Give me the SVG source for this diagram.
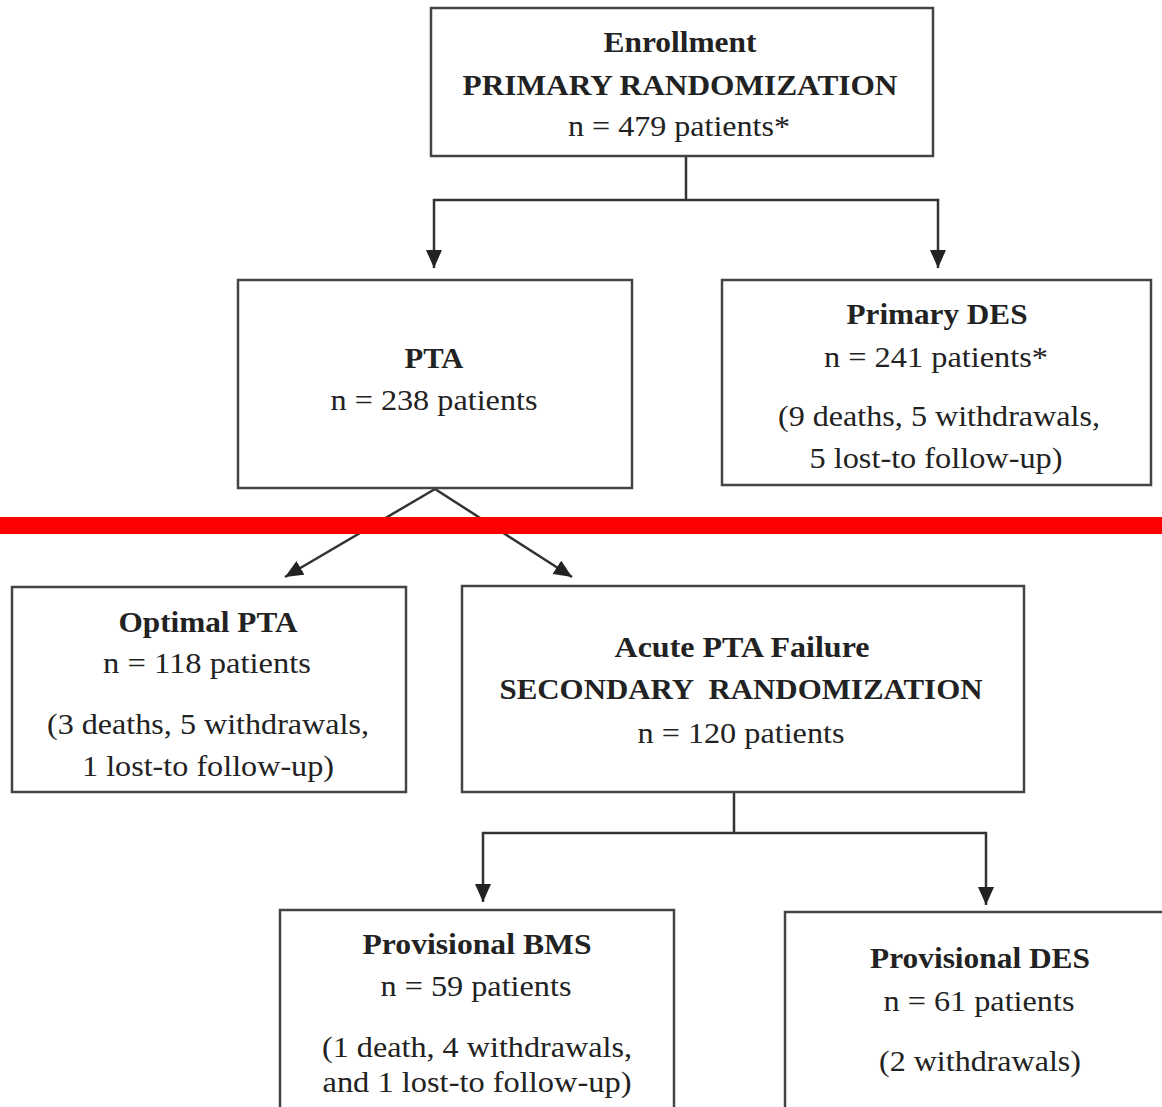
<svg xmlns="http://www.w3.org/2000/svg" width="1162" height="1107" viewBox="0 0 1162 1107">
<defs>
<style>
.box{fill:#fff;stroke:#444;stroke-width:2.5}
.t{font-family:"Liberation Serif","Times New Roman",serif;font-size:29px;fill:#222;text-anchor:middle}
.b{font-weight:bold}
.c{fill:none;stroke:#333;stroke-width:2.5}
</style>
<marker id="ah" markerUnits="userSpaceOnUse" markerWidth="18" markerHeight="16" viewBox="0 0 18 16" refX="18" refY="8" orient="auto">
<path d="M0,0 L18,8 L0,16 z" fill="#222"/>
</marker>
</defs>
<rect width="1162" height="1107" fill="#fff"/>
<g id="connectors">
<path class="c" d="M686,156 V200"/>
<path class="c" d="M686,200 H434 V268" marker-end="url(#ah)"/>
<path class="c" d="M686,200 H938 V268" marker-end="url(#ah)"/>
<path class="c" d="M435,489 L285,577" marker-end="url(#ah)"/>
<path class="c" d="M435,489 L572,577" marker-end="url(#ah)"/>
<path class="c" d="M734,792 V833"/>
<path class="c" d="M734,833 H483 V902" marker-end="url(#ah)"/>
<path class="c" d="M734,833 H986 V905" marker-end="url(#ah)"/>
</g>
<g id="enrollment">
<rect class="box" x="431" y="8" width="502" height="148"/>
<text class="t b" x="680" y="52" textLength="153" lengthAdjust="spacingAndGlyphs">Enrollment</text>
<text class="t b" x="680" y="95" textLength="435" lengthAdjust="spacingAndGlyphs">PRIMARY RANDOMIZATION</text>
<text class="t" x="679" y="136" textLength="222" lengthAdjust="spacingAndGlyphs">n = 479 patients*</text>
</g>
<g id="pta">
<rect class="box" x="238" y="280" width="394" height="208"/>
<text class="t b" x="434" y="368" textLength="59" lengthAdjust="spacingAndGlyphs">PTA</text>
<text class="t" x="434" y="410" textLength="207" lengthAdjust="spacingAndGlyphs">n = 238 patients</text>
</g>
<g id="primary-des">
<rect class="box" x="722" y="280" width="429" height="205"/>
<text class="t b" x="937" y="324" textLength="181" lengthAdjust="spacingAndGlyphs">Primary DES</text>
<text class="t" x="936" y="367" textLength="224" lengthAdjust="spacingAndGlyphs">n = 241 patients*</text>
<text class="t" x="939" y="426" textLength="322" lengthAdjust="spacingAndGlyphs">(9 deaths, 5 withdrawals,</text>
<text class="t" x="936" y="468" textLength="253" lengthAdjust="spacingAndGlyphs">5 lost-to follow-up)</text>
</g>
<g id="optimal-pta">
<rect class="box" x="12" y="587" width="394" height="205"/>
<text class="t b" x="208" y="632" textLength="179" lengthAdjust="spacingAndGlyphs">Optimal PTA</text>
<text class="t" x="207" y="673" textLength="208" lengthAdjust="spacingAndGlyphs">n = 118 patients</text>
<text class="t" x="208" y="734" textLength="322" lengthAdjust="spacingAndGlyphs">(3 deaths, 5 withdrawals,</text>
<text class="t" x="208" y="776" textLength="252" lengthAdjust="spacingAndGlyphs">1 lost-to follow-up)</text>
</g>
<g id="acute-pta-failure">
<rect class="box" x="462" y="586" width="562" height="206"/>
<text class="t b" x="742" y="657" textLength="255" lengthAdjust="spacingAndGlyphs">Acute PTA Failure</text>
<text class="t b" x="741" y="699" textLength="483" lengthAdjust="spacingAndGlyphs" xml:space="preserve">SECONDARY  RANDOMIZATION</text>
<text class="t" x="741" y="743" textLength="207" lengthAdjust="spacingAndGlyphs">n = 120 patients</text>
</g>
<g id="provisional-bms">
<rect class="box" x="280" y="910" width="394" height="215"/>
<text class="t b" x="477" y="954" textLength="229" lengthAdjust="spacingAndGlyphs">Provisional BMS</text>
<text class="t" x="476" y="996" textLength="191" lengthAdjust="spacingAndGlyphs">n = 59 patients</text>
<text class="t" x="477" y="1057" textLength="310" lengthAdjust="spacingAndGlyphs">(1 death, 4 withdrawals,</text>
<text class="t" x="477" y="1092" textLength="309" lengthAdjust="spacingAndGlyphs">and 1 lost-to follow-up)</text>
</g>
<g id="provisional-des">
<rect class="box" x="785" y="912" width="400" height="215"/>
<text class="t b" x="980" y="968" textLength="220" lengthAdjust="spacingAndGlyphs">Provisional DES</text>
<text class="t" x="979" y="1011" textLength="191" lengthAdjust="spacingAndGlyphs">n = 61 patients</text>
<text class="t" x="980" y="1071" textLength="202" lengthAdjust="spacingAndGlyphs">(2 withdrawals)</text>
</g>
<rect id="red-line" x="0" y="517" width="1162" height="17" fill="#ff0000"/>
</svg>
